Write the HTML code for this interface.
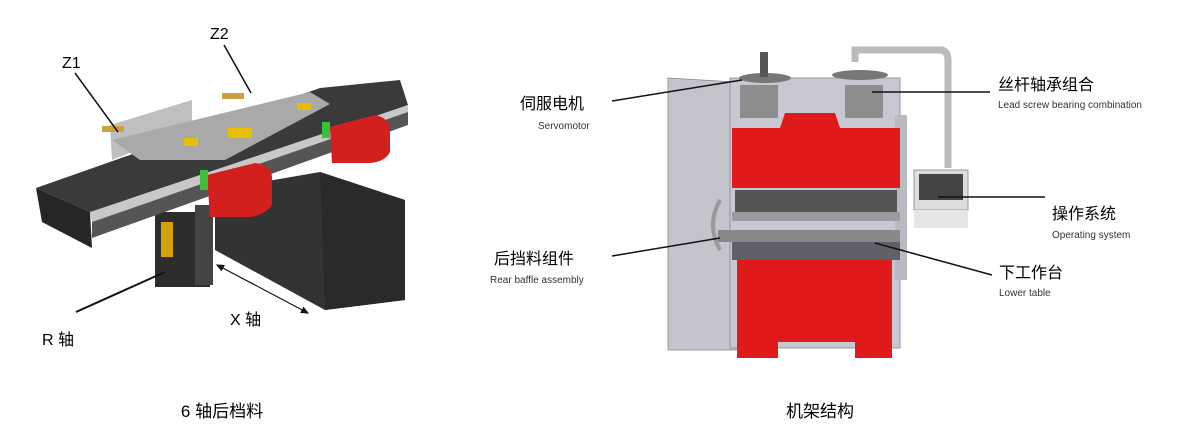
<!DOCTYPE html>
<html><head><meta charset="utf-8"><style>
html,body{margin:0;padding:0;background:#fff;}
svg{display:block;font-family:"Liberation Sans","Noto Sans CJK SC",sans-serif;}
</style></head><body>
<svg width="1200" height="429" viewBox="0 0 1200 429" xmlns="http://www.w3.org/2000/svg">
<defs><marker id="a" markerWidth="8" markerHeight="8" refX="4" refY="4" orient="auto-start-reverse"><path d="M0,1 L7,4 L0,7 z" fill="#111"/></marker></defs>
<!-- LEFT MACHINE -->
<polygon points="110,125 192,100 192,128 112,160" fill="#bfbfbf"/>
<polygon points="215,190 320,172 405,200 405,300 325,310 215,250" fill="#333"/>
<polygon points="320,172 405,200 405,300 325,310" fill="#2a2a2a"/>
<rect x="155" y="212" width="55" height="75" fill="#2d2d2d"/>
<rect x="161" y="222" width="12" height="35" fill="#d4a20a"/>
<rect x="195" y="205" width="18" height="80" fill="#444"/>
<polygon points="36,188 320,88 400,80 408,105 130,205 90,212" fill="#3a3a3a"/>
<polygon points="90,212 408,105 408,112 92,222" fill="#c8c8c8"/>
<polygon points="36,188 90,212 92,248 42,222" fill="#262626"/>
<polygon points="92,222 408,112 408,125 92,238" fill="#555"/>
<polygon points="112,140 310,92 330,104 225,160 140,160" fill="#a9a9a9"/>
<rect x="184" y="138" width="14" height="8" fill="#e5c000"/>
<rect x="228" y="128" width="24" height="10" fill="#e5c000"/>
<rect x="297" y="103" width="14" height="7" fill="#e5c000"/>
<path d="M207,175 L255,163 Q272,165 272,178 L272,205 Q265,215 250,217 L210,217 Z" fill="#d41f1f"/>
<path d="M330,127 L375,115 Q390,118 390,132 L390,152 Q385,162 370,163 L332,163 Z" fill="#d41f1f"/>
<rect x="200" y="170" width="8" height="20" fill="#3cbf3c"/>
<rect x="322" y="122" width="8" height="16" fill="#3cbf3c"/>
<rect x="102" y="126" width="22" height="6" fill="#cfa040"/>
<rect x="222" y="93" width="22" height="6" fill="#cfa040"/>
<line x1="75" y1="73" x2="118" y2="132" stroke="#111" stroke-width="1.5"/>
<line x1="224" y1="45" x2="251" y2="93" stroke="#111" stroke-width="1.5"/>
<line x1="76" y1="312" x2="165" y2="272" stroke="#111" stroke-width="2"/>
<line x1="219" y1="266" x2="306" y2="312" stroke="#111" stroke-width="1.2" marker-start="url(#a)" marker-end="url(#a)"/>
<text x="62" y="68" font-size="16">Z1</text>
<text x="210" y="39" font-size="16">Z2</text>
<text x="42" y="345" font-size="16">R 轴</text>
<text x="230" y="325" font-size="16">X 轴</text>
<text x="222" y="417" font-size="17" text-anchor="middle">6 轴后档料</text>
<!-- RIGHT MACHINE -->
<polygon points="668,78 735,82 740,350 668,350" fill="#c4c4cc" stroke="#888" stroke-width="0.8"/>
<rect x="730" y="78" width="170" height="270" fill="#c8c8d2" stroke="#888" stroke-width="0.8"/>
<rect x="895" y="115" width="12" height="165" fill="#b9b9c2"/>
<rect x="740" y="85" width="38" height="33" fill="#8e8e8e"/>
<rect x="845" y="85" width="38" height="33" fill="#8e8e8e"/>
<ellipse cx="765" cy="78" rx="26" ry="5" fill="#777"/>
<ellipse cx="860" cy="75" rx="28" ry="5" fill="#777"/>
<rect x="760" y="52" width="8" height="25" fill="#555"/>
<path d="M855,62 L855,50 L942,50 Q948,52 948,60 L948,168" fill="none" stroke="#bbb" stroke-width="7"/>
<path d="M732,128 L780,128 L785,113 L835,113 L840,128 L900,128 L900,188 L732,188 Z" fill="#e01a1a"/>
<rect x="735" y="190" width="162" height="22" fill="#555"/>
<rect x="732" y="212" width="168" height="9" fill="#9a9aa0"/>
<path d="M720,200 Q706,225 720,250" fill="none" stroke="#999" stroke-width="4"/>
<rect x="718" y="230" width="182" height="12" fill="#888"/>
<rect x="732" y="242" width="168" height="18" fill="#606068"/>
<path d="M737,260 L892,260 L892,358 L855,358 L855,342 L778,342 L778,358 L737,358 Z" fill="#e01a1a"/>
<rect x="914" y="170" width="54" height="40" fill="#ddd" stroke="#999"/>
<rect x="919" y="174" width="44" height="26" fill="#444"/>
<rect x="914" y="210" width="54" height="18" fill="#e6e6e6"/>
<line x1="612" y1="101" x2="742" y2="80" stroke="#111" stroke-width="1.5"/>
<line x1="872" y1="92" x2="990" y2="92" stroke="#111" stroke-width="1.5"/>
<line x1="938" y1="197" x2="1045" y2="197" stroke="#111" stroke-width="1.5"/>
<line x1="612" y1="256" x2="720" y2="238" stroke="#111" stroke-width="1.5"/>
<line x1="875" y1="243" x2="992" y2="275" stroke="#111" stroke-width="1.5"/>
<text x="520" y="109" font-size="16">伺服电机</text>
<text x="538" y="129" font-size="10" fill="#333">Servomotor</text>
<text x="998" y="90" font-size="16">丝杆轴承组合</text>
<text x="998" y="108" font-size="10" fill="#333">Lead screw bearing combination</text>
<text x="1052" y="219" font-size="16">操作系统</text>
<text x="1052" y="238" font-size="10" fill="#333">Operating system</text>
<text x="494" y="264" font-size="16">后挡料组件</text>
<text x="490" y="283" font-size="10" fill="#333">Rear baffle assembly</text>
<text x="999" y="278" font-size="16">下工作台</text>
<text x="999" y="296" font-size="10" fill="#333">Lower table</text>
<text x="820" y="417" font-size="17" text-anchor="middle">机架结构</text>
</svg>
</body></html>
